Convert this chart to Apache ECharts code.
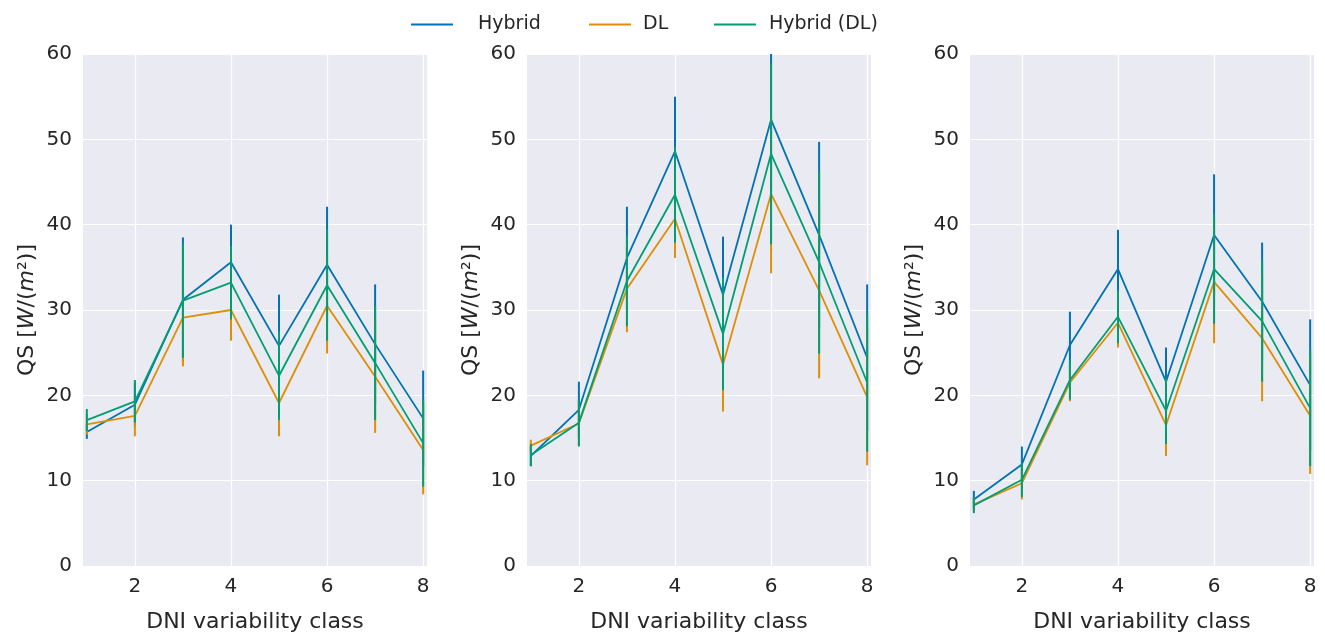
<!DOCTYPE html>
<html>
<head>
<meta charset="utf-8">
<script src="https://cdn.jsdelivr.net/npm/echarts@6/dist/echarts.min.js"></script>
<style>
  html, body { margin: 0; padding: 0; background: #fff; }
  #chart { width: 1325px; height: 638px; }
</style>
</head>
<body>
<div id="chart"></div>
<script>
// DNI variability classes
const classes = [1, 2, 3, 4, 5, 6, 7, 8]
const xTicks = [2, 4, 6, 8]
const methods = ['Hybrid', 'DL', 'Hybrid (DL)']

// panel 1
const p1Hybrid = [15.7, 18.9, 31.2, 35.6, 25.8, 35.3, 26.0, 17.3]
const p1HybridErr = [0.8, 2.6, 7.3, 4.4, 6.0, 6.8, 7.0, 5.6]
const p1DL = [16.6, 17.6, 29.1, 30.0, 19.1, 30.5, 22.2, 13.6]
const p1DLErr = [1.2, 2.4, 5.7, 3.6, 3.9, 5.6, 6.6, 5.2]
const p1HybridDL = [17.1, 19.3, 31.1, 33.2, 22.3, 32.9, 23.8, 14.4]
const p1HybridDLErr = [1.3, 2.5, 6.7, 4.3, 5.2, 6.5, 6.7, 5.1]

// panel 2
const p2Hybrid = [12.9, 18.3, 36.1, 48.6, 31.8, 52.3, 38.8, 24.4]
const p2HybridErr = [1.2, 3.3, 6.0, 6.4, 6.8, 8.0, 10.9, 8.6]
const p2DL = [14.1, 16.7, 32.5, 40.7, 23.6, 43.6, 32.3, 19.8]
const p2DLErr = [0.7, 2.6, 5.1, 4.6, 5.5, 9.3, 10.3, 8.0]
const p2HybridDL = [13.0, 16.8, 33.4, 43.5, 27.2, 48.3, 35.6, 21.5]
const p2HybridDLErr = [1.3, 2.8, 5.3, 5.6, 6.6, 10.6, 10.7, 8.1]

// panel 3
const p3Hybrid = [7.8, 11.9, 25.9, 34.8, 21.6, 38.8, 31.0, 21.2]
const p3HybridErr = [1.0, 2.1, 3.9, 4.6, 4.0, 7.1, 6.9, 7.7]
const p3DL = [7.2, 9.7, 21.5, 28.5, 16.5, 33.3, 26.7, 17.6]
const p3DLErr = [0.8, 1.9, 2.2, 2.9, 3.6, 7.2, 7.4, 6.8]
const p3HybridDL = [7.1, 10.1, 21.8, 29.2, 18.2, 34.8, 28.7, 18.5]
const p3HybridDLErr = [0.9, 2.0, 2.3, 3.1, 3.9, 6.4, 7.1, 6.8]

const colors = ['#0173b2', '#de8f05', '#029e73']
const panels = [
  [[p1Hybrid, p1HybridErr], [p1DL, p1DLErr], [p1HybridDL, p1HybridDLErr]],
  [[p2Hybrid, p2HybridErr], [p2DL, p2DLErr], [p2HybridDL, p2HybridDLErr]],
  [[p3Hybrid, p3HybridErr], [p3DL, p3DLErr], [p3HybridDL, p3HybridDLErr]]
]

const font = 'DejaVu Sans'
const textColor = '#262626'
const gridLefts = [83, 527, 970]

let grids = []
let xAxes = []
let yAxes = []
let series = []

gridLefts.forEach((left, i) => {
  grids.push({
    left: left, top: 54, width: 344, height: 515,
    show: true, backgroundColor: '#eaeaf2', borderWidth: 0
  })
  xAxes.push({
    type: 'value', gridIndex: i, min: 0.92, max: 8.08,
    name: 'DNI variability class', nameLocation: 'middle', nameGap: 45,
    nameTextStyle: { fontFamily: font, fontSize: 22, color: textColor },
    axisLine: { show: false },
    axisTick: { show: false, customValues: xTicks },
    axisLabel: { customValues: xTicks, fontFamily: font, fontSize: 20, color: textColor, margin: 11 },
    splitLine: { show: true, lineStyle: { color: '#ffffff', width: 1.2 } }
  })
  yAxes.push({
    type: 'value', gridIndex: i, min: 0, max: 60, interval: 10,
    name: 'QS [{i|W}/({i|m}²)]', nameLocation: 'middle', nameGap: 45,
    nameTextStyle: {
      fontFamily: font, fontSize: 22, color: textColor,
      rich: { i: { fontFamily: font, fontSize: 22, fontStyle: 'italic', color: textColor } }
    },
    axisLine: { show: false },
    axisTick: { show: false },
    axisLabel: { fontFamily: font, fontSize: 20, color: textColor, margin: 11, padding: [3, 0, 0, 0] },
    splitLine: { show: true, lineStyle: { color: '#ffffff', width: 1.2 } }
  })
  panels[i].forEach((m, k) => {
    const mean = m[0]
    const err = m[1]
    series.push({
      name: methods[k], type: 'line', xAxisIndex: i, yAxisIndex: i,
      data: classes.map((c, j) => [c, mean[j]]),
      showSymbol: false, symbol: 'none',
      lineStyle: { color: colors[k], width: 1.8 },
      itemStyle: { color: colors[k] },
      z: 2 + k * 2, animation: false
    })
    series.push({
      name: methods[k] + ' err', type: 'custom', xAxisIndex: i, yAxisIndex: i,
      data: classes.map((c, j) => [c, mean[j] - err[j], mean[j] + err[j]]),
      encode: { x: 0, y: [1, 2] },
      itemStyle: { color: colors[k] },
      renderItem: function (params, api) {
        const lo = api.coord([api.value(0), api.value(1)])
        const hi = api.coord([api.value(0), api.value(2)])
        return {
          type: 'line',
          shape: { x1: lo[0], y1: lo[1], x2: hi[0], y2: hi[1] },
          style: { stroke: colors[k], lineWidth: 2 }
        }
      },
      clip: true, z: 3 + k * 2, animation: false
    })
  })
})

// one legend per entry so each can sit where the original puts it
const legendLefts = [406, 584, 709]
const legendPads = [20, 7, 8]
const legends = methods.map((name, k) => ({
  data: [name], left: legendLefts[k], top: 10,
  icon: 'rect', itemWidth: 42, itemHeight: 2,
  textStyle: { fontFamily: font, fontSize: 19, color: textColor, padding: [0, 0, 0, legendPads[k]] }
}))

const chart = echarts.init(document.getElementById('chart'))
chart.setOption({
  animation: false,
  color: colors,
  legend: legends,
  grid: grids,
  xAxis: xAxes,
  yAxis: yAxes,
  series: series
})
</script>
</body>
</html>
